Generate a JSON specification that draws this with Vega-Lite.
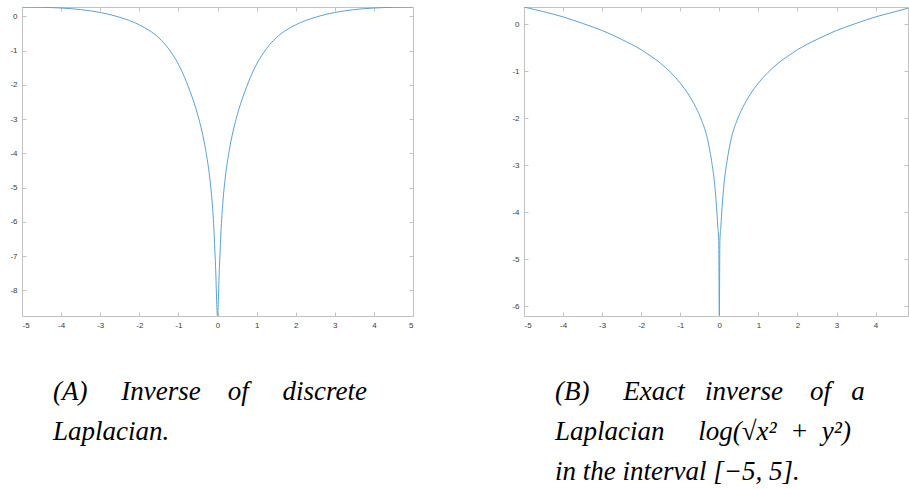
{
  "$schema": "https://vega.github.io/schema/vega-lite/v6.json",
  "background": "white",
  "padding": {"left": 9, "top": 6, "right": 0, "bottom": 0},
  "autosize": {"type": "pad"},
  "spacing": 97,
  "config": {
    "view": {"stroke": null},
    "axis": {
      "grid": false,
      "title": null,
      "domainColor": "#c2c2c2",
      "domainWidth": 1,
      "tickColor": "#c2c2c2",
      "tickSize": -4,
      "labelPadding": 9,
      "labelColor": "#3c3c3c",
      "labelFont": "Liberation Sans",
      "labelFontSize": 8,
      "labelExpr": "toString(datum.value)"
    },
    "title": {
      "orient": "bottom",
      "anchor": "start",
      "frame": "group",
      "font": "Liberation Serif",
      "fontStyle": "italic",
      "fontWeight": "normal",
      "fontSize": 27,
      "lineHeight": 40,
      "color": "#000000",
      "offset": 50
    }
  },
  "datasets": {
    "left": [
      {"x": -5, "y": 0.27}, {"x": -4.5, "y": 0.262}, {"x": -4, "y": 0.24}, {"x": -3.5, "y": 0.195},
      {"x": -3, "y": 0.11}, {"x": -2.5, "y": -0.03}, {"x": -2, "y": -0.25}, {"x": -1.75, "y": -0.41},
      {"x": -1.5, "y": -0.63}, {"x": -1.25, "y": -0.95}, {"x": -1, "y": -1.4}, {"x": -0.9, "y": -1.63},
      {"x": -0.8, "y": -1.9}, {"x": -0.7, "y": -2.2}, {"x": -0.6, "y": -2.52}, {"x": -0.5, "y": -2.9},
      {"x": -0.4, "y": -3.35}, {"x": -0.3, "y": -3.92}, {"x": -0.2, "y": -4.7}, {"x": -0.15, "y": -5.25},
      {"x": -0.1, "y": -6.05}, {"x": -0.05, "y": -7.3}, {"x": 0, "y": -8.75},
      {"x": 0.05, "y": -7.3}, {"x": 0.1, "y": -6.05}, {"x": 0.15, "y": -5.25}, {"x": 0.2, "y": -4.7},
      {"x": 0.3, "y": -3.92}, {"x": 0.4, "y": -3.35}, {"x": 0.5, "y": -2.9}, {"x": 0.6, "y": -2.52},
      {"x": 0.7, "y": -2.2}, {"x": 0.8, "y": -1.9}, {"x": 0.9, "y": -1.63}, {"x": 1, "y": -1.4},
      {"x": 1.25, "y": -0.95}, {"x": 1.5, "y": -0.63}, {"x": 1.75, "y": -0.41}, {"x": 2, "y": -0.25},
      {"x": 2.5, "y": -0.03}, {"x": 3, "y": 0.11}, {"x": 3.5, "y": 0.195}, {"x": 4, "y": 0.24},
      {"x": 4.5, "y": 0.262}, {"x": 5, "y": 0.27}
    ],
    "right": [
      {"x": -5, "y": 0.37}, {"x": -4.5, "y": 0.27}, {"x": -4, "y": 0.16}, {"x": -3.5, "y": 0.02},
      {"x": -3, "y": -0.13}, {"x": -2.5, "y": -0.32}, {"x": -2, "y": -0.54}, {"x": -1.75, "y": -0.68},
      {"x": -1.5, "y": -0.83}, {"x": -1.25, "y": -1.02}, {"x": -1, "y": -1.25}, {"x": -0.8, "y": -1.48},
      {"x": -0.6, "y": -1.77}, {"x": -0.45, "y": -2.05}, {"x": -0.3, "y": -2.45}, {"x": -0.2, "y": -2.9},
      {"x": -0.12, "y": -3.4}, {"x": -0.07, "y": -3.9}, {"x": -0.04, "y": -4.3}, {"x": -0.015, "y": -4.6},
      {"x": 0, "y": -6.2},
      {"x": 0.015, "y": -4.6}, {"x": 0.04, "y": -4.3}, {"x": 0.07, "y": -3.9}, {"x": 0.12, "y": -3.4},
      {"x": 0.2, "y": -2.9}, {"x": 0.3, "y": -2.45}, {"x": 0.45, "y": -2.05}, {"x": 0.6, "y": -1.77},
      {"x": 0.8, "y": -1.48}, {"x": 1, "y": -1.25}, {"x": 1.25, "y": -1.02}, {"x": 1.5, "y": -0.83},
      {"x": 1.75, "y": -0.68}, {"x": 2, "y": -0.54}, {"x": 2.5, "y": -0.32}, {"x": 3, "y": -0.13},
      {"x": 3.5, "y": 0.02}, {"x": 4, "y": 0.16}, {"x": 4.5, "y": 0.27}, {"x": 4.83, "y": 0.345}
    ]
  },
  "hconcat": [
    {
      "width": 391,
      "height": 309,
      "title": {
        "text": ["(A)\u2003 Inverse\u2003of\u2003 discrete", "Laplacian."],
        "dx": 31
      },
      "data": {"name": "left"},
      "layer": [
        {
          "mark": {"type": "line", "color": "#5aa2d4", "strokeWidth": 1, "interpolate": "monotone", "clip": true},
          "encoding": {
            "x": {"field": "x", "type": "quantitative", "scale": {"domain": [-5, 5], "nice": false, "zero": false},
                  "axis": {"orient": "bottom", "values": [-5, -4, -3, -2, -1, 0, 1, 2, 3, 4, 5]}},
            "y": {"field": "y", "type": "quantitative", "scale": {"domain": [-8.75, 0.27], "nice": false, "zero": false},
                  "axis": {"orient": "left", "values": [-8, -7, -6, -5, -4, -3, -2, -1, 0]}}
          }
        },
        {
          "mark": {"type": "line", "opacity": 0},
          "encoding": {
            "x": {"field": "x", "type": "quantitative",
                  "axis": {"orient": "top", "labels": false, "values": [-5, -4, -3, -2, -1, 0, 1, 2, 3, 4, 5]}},
            "y": {"field": "y", "type": "quantitative",
                  "axis": {"orient": "right", "labels": false, "values": [-8, -7, -6, -5, -4, -3, -2, -1, 0]}}
          }
        }
      ],
      "resolve": {"axis": {"x": "independent", "y": "independent"}}
    },
    {
      "width": 384,
      "height": 309,
      "title": {
        "text": ["(B)\u2003 Exact\u2002 inverse\u2003of\u2002 a", "Laplacian\u2003 log(\u221Ax\u00B2\u2002+\u2002y\u00B2)", "in the interval [\u22125, 5]."],
        "dx": 31
      },
      "data": {"name": "right"},
      "layer": [
        {
          "mark": {"type": "line", "color": "#5aa2d4", "strokeWidth": 1, "interpolate": "monotone", "clip": true},
          "encoding": {
            "x": {"field": "x", "type": "quantitative", "scale": {"domain": [-5, 4.83], "nice": false, "zero": false},
                  "axis": {"orient": "bottom", "values": [-5, -4, -3, -2, -1, 0, 1, 2, 3, 4]}},
            "y": {"field": "y", "type": "quantitative", "scale": {"domain": [-6.21, 0.37], "nice": false, "zero": false},
                  "axis": {"orient": "left", "values": [-6, -5, -4, -3, -2, -1, 0]}}
          }
        },
        {
          "mark": {"type": "line", "opacity": 0},
          "encoding": {
            "x": {"field": "x", "type": "quantitative",
                  "axis": {"orient": "top", "labels": false, "values": [-5, -4, -3, -2, -1, 0, 1, 2, 3, 4]}},
            "y": {"field": "y", "type": "quantitative",
                  "axis": {"orient": "right", "labels": false, "values": [-6, -5, -4, -3, -2, -1, 0]}}
          }
        }
      ],
      "resolve": {"axis": {"x": "independent", "y": "independent"}}
    }
  ]
}
